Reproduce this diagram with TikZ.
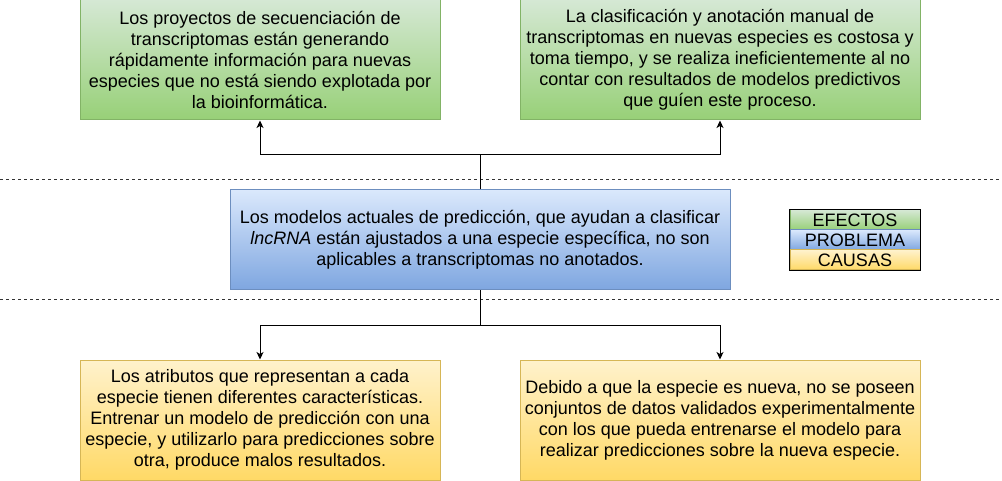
\documentclass[tikz,border=0pt]{standalone}
\usepackage{fontspec}
\setmainfont{Liberation Sans}
\usetikzlibrary{arrows.meta}
\definecolor{gfill}{HTML}{D5E8D4}\definecolor{ggrad}{HTML}{97D077}\definecolor{gline}{HTML}{82B366}
\definecolor{bfill}{HTML}{DAE8FC}\definecolor{bgrad}{HTML}{7EA6E0}\definecolor{bline}{HTML}{6C8EBF}
\definecolor{yfill}{HTML}{FFF2CC}\definecolor{ygrad}{HTML}{FFD966}\definecolor{yline}{HTML}{D6B656}
\begin{document}
\begin{tikzpicture}[x=1pt,y=-1pt,
  txt/.style={font=\fontsize{18}{21}\selectfont, align=center, inner sep=0pt},
  box/.style={txt, minimum width=#1, line width=1pt},
  effbox/.style={box=#1, minimum height=120pt, draw=gline, top color=gfill, bottom color=ggrad},
  probbox/.style={box=#1, minimum height=100pt, draw=bline, top color=bfill, bottom color=bgrad},
  caubox/.style={box=#1, minimum height=120pt, draw=yline, top color=yfill, bottom color=ygrad},
  legrow/.style={txt, minimum width=130pt, minimum height=20pt, text height=12.9pt, text depth=0pt, line width=1pt},
  conn/.style={line width=1pt, black},
  arr/.style={conn, -{Stealth[length=7.5pt,width=7pt,inset=2pt]}},
  divider/.style={line width=1pt, black!80, dash pattern=on 3pt off 3pt}
]
\useasboundingbox (0,0) rectangle (1002,481);
% divider lines
\coordinate (d1l) at (0,180); \coordinate (d1r) at (1002,180);
\coordinate (d2l) at (0,300); \coordinate (d2r) at (1002,300);
\draw[divider] (d1l) -- (d1r);
\draw[divider] (d2l) -- (d2r);
% effects
\node[effbox=360pt] (eff1) at (260,60) {Los proyectos de secuenciación de\\transcriptomas están generando\\rápidamente información para nuevas\\especies que no está siendo explotada por\\la bioinformática.};
\node[effbox=400pt] (eff2) at (720,60) {La clasificación y anotación manual de\\transcriptomas en nuevas especies es costosa y\\toma tiempo, y se realiza ineficientemente al no\\contar con resultados de modelos predictivos\\que guíen este proceso.};
% problem
\node[probbox=500pt] (prob) at (480,240) {Los modelos actuales de predicción, que ayudan a clasificar\\\textit{lncRNA} están ajustados a una especie específica, no son\\aplicables a transcriptomas no anotados.};
% causes
\node[caubox=360pt] (cau1) at (260,420) {Los atributos que representan a cada\\especie tienen diferentes características.\\Entrenar un modelo de predicción con una\\especie, y utilizarlo para predicciones sobre\\otra, produce malos resultados.};
\node[caubox=400pt] (cau2) at (720,420) {Debido a que la especie es nueva, no se poseen\\conjuntos de datos validados experimentalmente\\con los que pueda entrenarse el modelo para\\realizar predicciones sobre la nueva especie.};
% connectors
\coordinate (jt) at (480,155);
\coordinate (jb) at (480,325);
\draw[conn] (prob.north) -- (jt);
\draw[arr] (jt) -| (eff1.south);
\draw[arr] (jt) -| (eff2.south);
\draw[conn] (prob.south) -- (jb);
\draw[arr] (jb) -| (cau1.north);
\draw[arr] (jb) -| (cau2.north);
% legend
\node[legrow, draw=gline, top color=gfill, bottom color=ggrad] (leg1) at (855,220) {EFECTOS};
\node[legrow, draw=bline, top color=bfill, bottom color=bgrad] (leg2) at (855,240) {PROBLEMA};
\node[legrow, draw=yline, top color=yfill, bottom color=ygrad] (leg3) at (855,260) {CAUSAS};
\draw[line width=1pt, black] (leg1.north west) rectangle (leg3.south east);
\end{tikzpicture}
\end{document}
